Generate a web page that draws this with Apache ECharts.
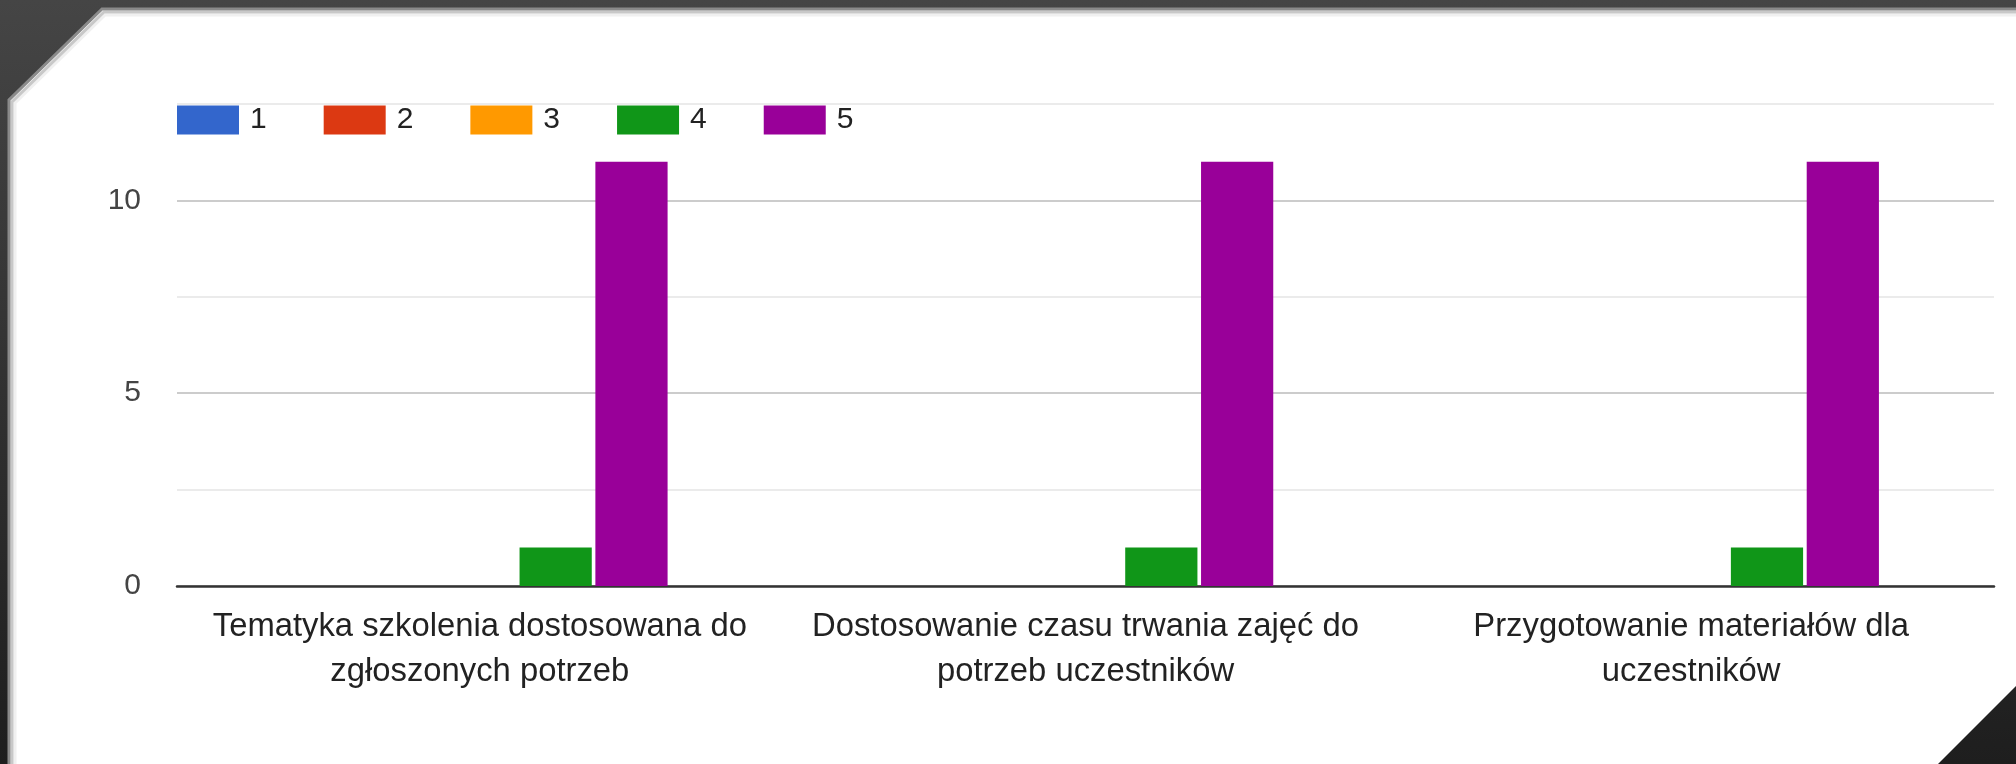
<!DOCTYPE html>
<html>
<head>
<meta charset="utf-8">
<script src="https://cdn.jsdelivr.net/npm/echarts@6/dist/echarts.min.js"></script>
<style>
html,body{margin:0;padding:0;background:#ffffff;}
#chart{width:2016px;height:764px;}
</style>
</head>
<body>
<div id="chart"></div>
<script>
const categories = [
  "Tematyka szkolenia dostosowana do\nzgłoszonych potrzeb",
  "Dostosowanie czasu trwania zajęć do\npotrzeb uczestników",
  "Przygotowanie materiałów dla\nuczestników"
];
const seriesNames = ["1", "2", "3", "4", "5"];
const values1 = [0, 0, 0];
const values2 = [0, 0, 0];
const values3 = [0, 0, 0];
const values4 = [1, 1, 1];
const values5 = [11, 11, 11];
const seriesColors = ["#3366cc", "#dc3912", "#ff9900", "#109618", "#990099"];
const yTickLabels = { 0: "0", 5: "5", 10: "10" };

const allValues = [values1, values2, values3, values4, values5];

const chart = echarts.init(document.getElementById('chart'), null, { renderer: 'canvas' });

const W = 2016, H = 764;
const frame = [
  {
    type: 'rect', z: -10, silent: true,
    shape: { x: 0, y: 0, width: W, height: H },
    style: { fill: new echarts.graphic.LinearGradient(0, 0, 0, 1, [
      { offset: 0, color: '#454545' }, { offset: 1, color: '#1e1e1e' }]) }
  },
  {
    type: 'polygon', z: -9, silent: true,
    shape: { points: [[8, 764], [8, 100], [102, 8], [2016, 8], [2016, 686], [1938, 764]] },
    style: { fill: '#ffffff' }
  },
  {
    type: 'polyline', z: -8, silent: true,
    shape: { points: [[15, 764], [15, 103], [105, 15], [2016, 15]] },
    style: { stroke: '#f0f0f0', lineWidth: 3, fill: null }
  },
  {
    type: 'polyline', z: -8, silent: true,
    shape: { points: [[12, 764], [12, 102], [104, 12], [2016, 12]] },
    style: { stroke: '#c8c8c8', lineWidth: 3, fill: null }
  },
  {
    type: 'polyline', z: -8, silent: true,
    shape: { points: [[9, 764], [9, 100], [102, 9], [2016, 9]] },
    style: { stroke: '#8a8a8a', lineWidth: 3, fill: null }
  }
];

const option = {
  backgroundColor: 'transparent',
  animation: false,
  graphic: frame,
  legend: {
    data: seriesNames,
    left: 177,
    top: 105,
    padding: 0,
    itemWidth: 62,
    itemHeight: 29,
    itemGap: 57,
    icon: 'rect',
    textStyle: { fontFamily: 'Liberation Sans, Arial, sans-serif', fontSize: 30, color: '#222222', padding: [0, 0, 0, 6] }
  },
  grid: { left: 177, right: 22, top: 104, bottom: 178, containLabel: false },
  xAxis: {
    type: 'category',
    data: categories,
    axisTick: { show: false },
    axisLine: { show: true, lineStyle: { color: '#333333', width: 2.5 } },
    axisLabel: {
      interval: 0,
      margin: 18,
      fontFamily: 'Liberation Sans, Arial, sans-serif',
      fontSize: 32.8,
      lineHeight: 45,
      color: '#222222',
      align: 'center'
    }
  },
  yAxis: {
    type: 'value',
    min: 0,
    max: 12.5,
    interval: 2.5,
    axisLine: { show: false },
    axisTick: { show: false },
    splitLine: { show: true, lineStyle: { color: ['#cccccc', '#ebebeb'], width: 2 } },
    axisLabel: {
      margin: 36,
      fontFamily: 'Liberation Sans, Arial, sans-serif',
      fontSize: 30,
      color: '#444444',
      formatter: function (v) { return yTickLabels[v] !== undefined ? yTickLabels[v] : ''; }
    }
  },
  series: seriesNames.map(function (name, i) {
    return {
      name: name,
      type: 'bar',
      data: allValues[i],
      barCategoryGap: '38%',
      barGap: '5%',
      itemStyle: { color: seriesColors[i] },
      emphasis: { disabled: true }
    };
  })
};

chart.setOption(option);
</script>
</body>
</html>
